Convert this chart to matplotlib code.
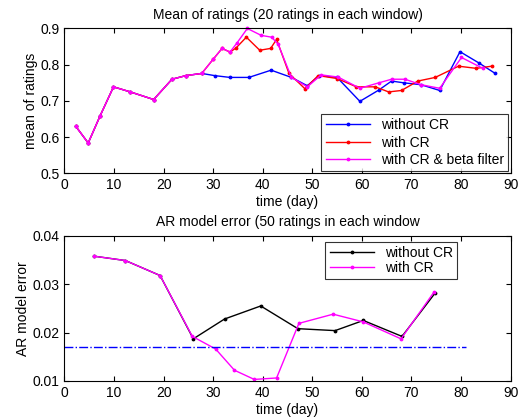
import matplotlib.pyplot as plt

plt.rcParams['font.family'] = ['Liberation Sans', 'DejaVu Sans']

# Mean of ratings (20 ratings per window)
t_blue = [2.3, 4.8, 7.2, 9.9, 13.3, 18.0, 21.7, 24.5, 27.7, 30.3, 33.4, 37.2, 41.7, 45.8,
          49.0, 51.4, 55.0, 59.6, 63.4, 66.0, 68.5, 71.9, 75.7, 79.8, 83.6, 86.9]
m_blue = [.630, .584, .659, .739, .725, .704, .760, .770, .776, .770, .765, .765, .785, .765,
          .742, .770, .765, .699, .730, .755, .750, .745, .729, .836, .805, .776]

t_red = [2.3, 4.8, 7.2, 9.9, 13.3, 18.0, 21.7, 24.5, 27.7, 30.0, 31.8, 33.4, 34.6, 36.7,
         39.4, 41.6, 42.8, 45.3, 48.5, 51.2, 55.0, 58.9, 62.7, 65.4, 68.0, 71.3, 74.8,
         79.5, 83.1, 86.2]
m_red = [.630, .584, .659, .739, .725, .704, .760, .770, .776, .815, .845, .835, .846, .876,
         .840, .845, .870, .776, .734, .770, .762, .739, .739, .725, .729, .755, .765,
         .796, .790, .796]

t_mag = [2.3, 4.8, 7.2, 9.9, 13.3, 18.0, 21.7, 24.5, 27.7, 30.0, 31.8, 33.4, 34.8, 36.9,
         39.7, 41.8, 43.1, 45.8, 49.0, 51.8, 55.2, 59.6, 63.4, 66.0, 68.7, 71.9, 75.7,
         80.1, 84.4]
m_mag = [.630, .584, .659, .739, .725, .704, .760, .770, .776, .815, .845, .835, .860, .900,
         .881, .876, .857, .765, .739, .772, .766, .735, .750, .760, .760, .745, .735,
         .820, .790]

# AR model error (50 ratings per window)
t_err_no = [6.0, 12.3, 19.3, 26.0, 32.3, 39.6, 47.1, 54.6, 60.3, 68.1, 74.8]
e_no = [.0358, .0349, .0318, .0187, .0228, .0255, .0208, .0204, .0225, .0192, .0282]
t_err_cr = [6.0, 12.3, 19.3, 25.8, 30.5, 34.3, 38.3, 42.8, 47.3, 54.2, 60.3, 67.9, 74.5]
e_cr = [.0358, .0349, .0318, .0192, .0166, .0122, .0103, .0106, .0219, .0238, .0222, .0187, .0283]
threshold = 0.017
thr_range = [0, 81]

fig = plt.figure(figsize=(5.28, 4.19), dpi=100)
ax1 = fig.add_axes([0.122, 0.586, 0.845, 0.346])
ax2 = fig.add_axes([0.122, 0.091, 0.845, 0.346])

ax1.plot(t_blue, m_blue, '.-', color='#0000ff', lw=1, ms=3.5, label='without CR')
ax1.plot(t_red, m_red, '.-', color='#ff0000', lw=1, ms=3.5, label='with CR')
ax1.plot(t_mag, m_mag, '.-', color='#ff00ff', lw=1, ms=3.5, label='with CR & beta filter',
         clip_on=False)
ax1.set_xlim(0, 90)
ax1.set_ylim(0.5, 0.9)
ax1.set_xticks(range(0, 91, 10))
ax1.set_yticks([0.5, 0.6, 0.7, 0.8, 0.9])
ax1.set_title('Mean of ratings (20 ratings in each window)', fontsize=10, pad=7)
ax1.set_xlabel('time (day)', fontsize=10, labelpad=2)
ax1.set_ylabel('mean of ratings', fontsize=10, labelpad=2)
leg1 = ax1.legend(loc='lower right', fontsize=10, fancybox=False, edgecolor='black',
                  borderaxespad=0.15, handlelength=3.2, labelspacing=0.25, borderpad=0.3)
leg1.get_frame().set_linewidth(0.8)

ax2.plot(t_err_no, e_no, '.-', color='black', lw=1, ms=3.5, label='without CR')
ax2.plot(t_err_cr, e_cr, '.-', color='#ff00ff', lw=1, ms=3.5, label='with CR')
ax2.plot(thr_range, [threshold, threshold], '-.', color='#0000ff', lw=1)
ax2.set_xlim(0, 90)
ax2.set_ylim(0.01, 0.04)
ax2.set_xticks(range(0, 91, 10))
ax2.set_yticks([0.01, 0.02, 0.03, 0.04])
ax2.set_title('AR model error (50 ratings in each window', fontsize=10, pad=7)
ax2.set_xlabel('time (day)', fontsize=10, labelpad=2)
ax2.set_ylabel('AR model error', fontsize=10, labelpad=2)
leg2 = ax2.legend(loc='upper left', bbox_to_anchor=(0.585, 0.96), fontsize=10, fancybox=False,
                  edgecolor='black', borderaxespad=0, handlelength=3.2, labelspacing=0.1,
                  borderpad=0.3)
leg2.get_frame().set_linewidth(0.8)

for ax in (ax1, ax2):
    ax.tick_params(direction='in', top=True, right=True, labelsize=10, length=3.5)
    for s in ax.spines.values():
        s.set_linewidth(0.8)

plt.savefig('out.png', dpi=100)
